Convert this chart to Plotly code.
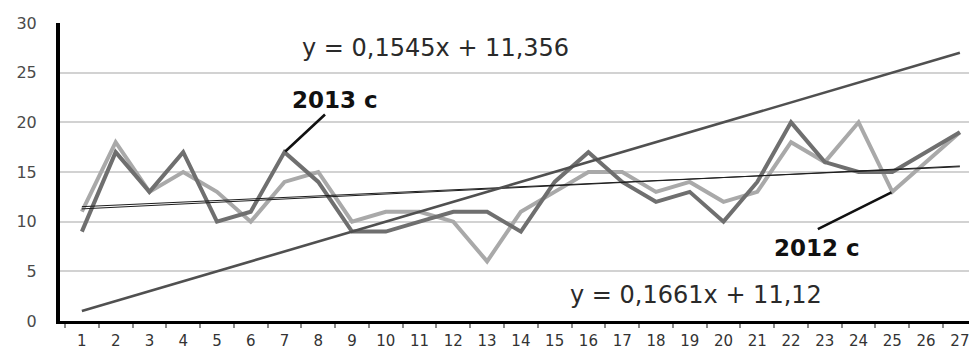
import plotly.graph_objects as go

# Day numbers along the horizontal axis
days = list(range(1, 28))

# Daily values for the two seasons
values_2013 = [9, 17, 13, 17, 10, 11, 17, 14, 9, 9, 10, 11, 11, 9, 14, 17, 14, 12, 13, 10, 14, 20, 16, 15, 15, 17, 19]
values_2012 = [11, 18, 13, 15, 13, 10, 14, 15, 10, 11, 11, 10, 6, 11, 13, 15, 15, 13, 14, 12, 13, 18, 16, 20, 13, 16, 19]

# Reference line rising one unit per day
reference_line = [1, 2, 3, 4, 5, 6, 7, 8, 9, 10, 11, 12, 13, 14, 15, 16, 17, 18, 19, 20,
                  21, 22, 23, 24, 25, 26, 27]

# Linear trend coefficients (slope, intercept)
trend_a = (0.1545, 11.356)
trend_b = (0.1661, 11.12)

y_ticks = [0, 5, 10, 15, 20, 25, 30]

FONT = "DejaVu Sans"

fig = go.Figure()

fig.add_trace(go.Scatter(x=days, y=values_2012, mode="lines",
                         line=dict(color="#a9a9a9", width=4), name="2012 c"))
fig.add_trace(go.Scatter(x=days, y=values_2013, mode="lines",
                         line=dict(color="#6f6f6f", width=4), name="2013 c"))

for slope, intercept in (trend_a, trend_b):
    tx = [days[0], days[-1]]
    ty = [slope * v + intercept for v in tx]
    fig.add_trace(go.Scatter(x=tx, y=ty, mode="lines",
                             line=dict(color="#1e1e1e", width=1), showlegend=False))

fig.add_trace(go.Scatter(x=days, y=reference_line, mode="lines",
                         line=dict(color="#505050", width=2.6), showlegend=False))


def fmt(v):
    return f"{v}".replace(".", ",")


eq_a = f"y = {fmt(trend_a[0])}x + {fmt(trend_a[1])}"
eq_b = f"y = {fmt(trend_b[0])}x + {fmt(trend_b[1])}"

annotations = [
    dict(x=11.46, y=27.5, text=eq_a, showarrow=False,
         font=dict(family=FONT, size=24, color="#2a2a2a")),
    dict(x=19.2, y=2.6, text=eq_b, showarrow=False,
         font=dict(family=FONT, size=24, color="#2a2a2a")),
    dict(x=8.5, y=22.25, text="<b>2013 c</b>", showarrow=False,
         font=dict(family=FONT, size=23, color="#111111")),
    dict(x=22.77, y=7.35, text="<b>2012 c</b>", showarrow=False,
         font=dict(family=FONT, size=23, color="#111111")),
    # leader lines from the labels to their points
    dict(x=7, y=values_2013[6], ax=42, ay=-39, text="", showarrow=True,
         arrowhead=0, arrowwidth=2.6, arrowcolor="#111111", standoff=1),
    dict(x=25, y=values_2012[24], ax=-76, ay=38, text="", showarrow=True,
         arrowhead=0, arrowwidth=2.6, arrowcolor="#111111", standoff=1),
]

fig.update_layout(
    width=969, height=349,
    margin=dict(l=60, r=0, t=23, b=28),
    paper_bgcolor="white", plot_bgcolor="white",
    showlegend=False,
    annotations=annotations,
    font=dict(family=FONT),
)

fig.update_xaxes(
    range=[0.352, 27.27],
    automargin=False,
    tickmode="array", tickvals=days, ticktext=[str(d) for d in days],
    ticks="outside", ticklen=4, tickcolor="rgba(0,0,0,0)",
    ticklabeloverflow="allow",
    tickfont=dict(family=FONT, size=15, color="#333333"),
    showgrid=False, zeroline=False,
    showline=True, linecolor="#000000", linewidth=3,
    minor=dict(tickmode="array", tickvals=[d - 0.5 for d in days] + [days[-1] + 0.5],
               ticks="outside", ticklen=4, tickcolor="#8a8a8a", tickwidth=1.5, showgrid=False),
)

fig.update_yaxes(
    range=[0, 30],
    automargin=False,
    tickmode="array", tickvals=y_ticks,
    ticks="outside", ticklen=16, tickcolor="rgba(0,0,0,0)",
    tickfont=dict(family=FONT, size=16, color="#4a4a4a"),
    showgrid=True, gridcolor="#d2d2d2", gridwidth=1.6,
    zeroline=False,
    showline=True, linecolor="#000000", linewidth=4,
)

fig.write_html("out.html")
